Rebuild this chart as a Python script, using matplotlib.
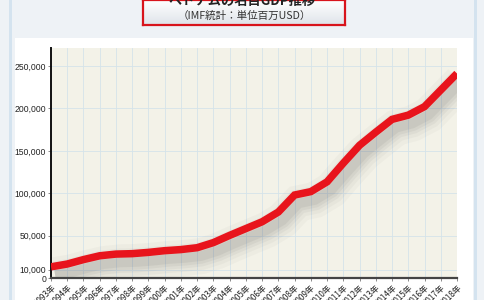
import numpy as np
import matplotlib
matplotlib.use("Agg")
from matplotlib import pyplot as plt
from matplotlib import patheffects as pe
from matplotlib.patches import Rectangle

plt.rcParams['font.family'] = ['Noto Sans CJK JP', 'DejaVu Sans']

# data (million USD)
years = list(range(1993, 2019))
gdp = [13500, 16800, 22000, 26500, 28500, 29000, 30500, 32500, 33800, 36000,
       42000, 50500, 58500, 66500, 78000, 98000, 102000, 113500, 135500, 156500,
       172000, 187000, 192000, 202000, 221500, 241000]
ytick_vals = [0, 10000, 50000, 100000, 150000, 200000, 250000]
ytick_labels = ["0", "10,000", "50,000", "100,000", "150,000", "200,000", "250,000"]
xtick_labels = [f"{y}年" for y in years]
title = "ベトナムの名目GDP推移"
subtitle = "（IMF統計：単位百万USD）"

W, H = 485, 300
fig = plt.figure(figsize=(W / 100, H / 100), dpi=100, facecolor="#eef2f6")

# page background: white card, light blue frame lines
fig.patches.append(Rectangle((15 / W, 0), 458 / W, 262 / H, transform=fig.transFigure,
                             facecolor="white", edgecolor="none", zorder=-5))
for xp in (11, 476):
    fig.patches.append(Rectangle(((xp - 1.5) / W, 0), 3 / W, 1, transform=fig.transFigure,
                                 facecolor="#d4e3ef", edgecolor="none", zorder=-5))

# title box with gradient
bx0, bx1, by0 = 143 / W, 345 / W, (H - 25) / H
grad = np.linspace(0, 1, 50).reshape(-1, 1)
gax = fig.add_axes([bx0, by0, bx1 - bx0, 1 - by0])
gax.imshow(grad, aspect="auto", cmap=matplotlib.colors.LinearSegmentedColormap.from_list(
    "g", ["#ffffff", "#dfe4ea"]), extent=[0, 1, 0, 1])
gax.set_xticks([])
gax.set_yticks([])
for s in gax.spines.values():
    s.set_color("#d8141c")
    s.set_linewidth(1.6)
fig.text(242 / W, 1 - 1 / H, title, ha="center", va="center", fontsize=9.5,
         fontweight="bold", color="#222222")
fig.text(244 / W, 1 - 15.5 / H, subtitle, ha="center", va="center", fontsize=7.6,
         color="#333333")

# chart
ax = fig.add_axes([51 / W, (H - 278.3) / H, 406 / W, 230.3 / H])
ax.set_facecolor("#f3f2e8")
ax.set_xlim(years[0], years[-1])
ax.set_ylim(0, 271000)

# soft drop shadow built from several faint layers
shadow = [pe.SimpleLineShadow(offset=(3, -6), shadow_color="#444444", alpha=a, linewidth=lw)
          for a, lw in ((0.03, 26), (0.04, 20), (0.05, 15), (0.06, 11), (0.07, 7))]
ax.plot(years, gdp, color="#e8141c", linewidth=5.4, solid_joinstyle="miter",
        solid_capstyle="butt", path_effects=shadow + [pe.Normal()], zorder=3)

ax.set_xticks(years)
ax.set_xticklabels(xtick_labels, rotation=45, ha="right", rotation_mode="anchor",
                   fontsize=5.8, color="#222222")
ax.set_yticks(ytick_vals)
ax.set_yticklabels(ytick_labels, fontsize=6.2, color="#222222",
                   family=["Liberation Sans", "DejaVu Sans"])
ax.tick_params(axis="both", length=2, width=0.6, color="#777777", pad=1.5)
ax.grid(True, color="#d5e3ea", linewidth=0.6, zorder=0)
ax.set_axisbelow(True)
for side in ("top", "right"):
    ax.spines[side].set_visible(False)
ax.spines["left"].set_color("#111111")
ax.spines["left"].set_linewidth(1.4)
ax.spines["bottom"].set_color("#444444")
ax.spines["bottom"].set_linewidth(1.6)

fig.savefig("out.png", dpi=100, facecolor=fig.get_facecolor())
